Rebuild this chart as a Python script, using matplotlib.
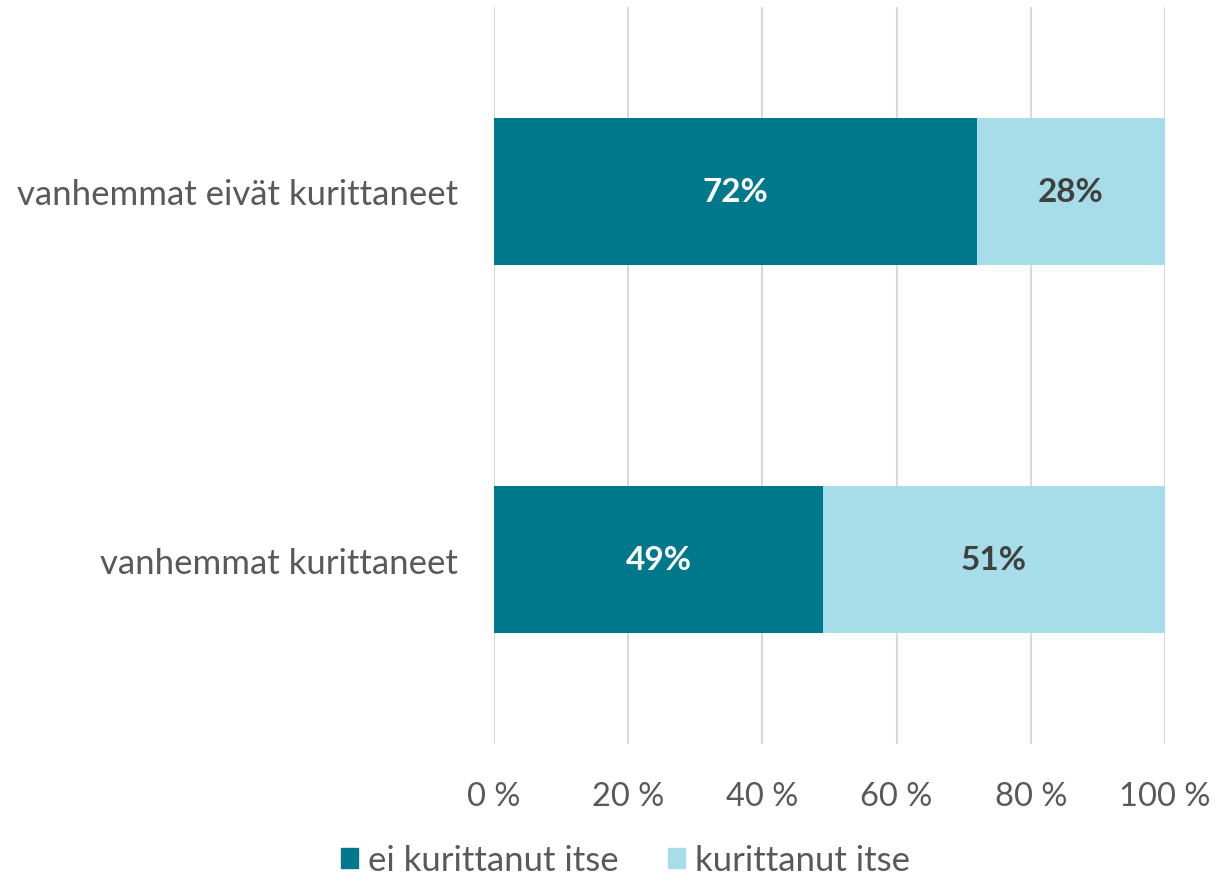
import matplotlib
matplotlib.use('Agg')
import matplotlib.pyplot as plt
from matplotlib.patches import Patch

plt.rcParams['font.family'] = ['Lato', 'DejaVu Sans']

categories = ['vanhemmat kurittaneet', 'vanhemmat eivät kurittaneet']
not_disciplined = [49, 72]
disciplined = [51, 28]
series_names = ['ei kurittanut itse', 'kurittanut itse']
xticks = [0, 20, 40, 60, 80, 100]

dark = '#00788C'
light = '#A6DDE8'
grey = '#595959'

fig = plt.figure(figsize=(12.17, 8.78), dpi=100)
ax = fig.add_axes([0.4059, 0.1515, 0.5514, 0.8394])

y = range(len(categories))
ax.barh(y, not_disciplined, height=0.4, color=dark, zorder=3)
ax.barh(y, disciplined, left=not_disciplined, height=0.4, color=light, zorder=3)

for i, (a, b) in enumerate(zip(not_disciplined, disciplined)):
    ax.text(a / 2, i, f'{a}%', ha='center', va='center', color='white',
            fontsize=24, fontweight='bold', zorder=4)
    ax.text(a + b / 2, i, f'{b}%', ha='center', va='center', color='#404040',
            fontsize=24, fontweight='bold', zorder=4)

ax.set_xlim(0, 100)
ax.set_ylim(-0.5, 1.5)
ax.set_xticks(xticks)
ax.set_xticklabels([f'{t} %' for t in xticks])
ax.set_yticks(list(y))
ax.set_yticklabels(categories)
ax.tick_params(axis='x', length=0, pad=27, labelsize=23.5, colors=grey)
ax.tick_params(axis='y', length=0, pad=26, labelsize=25, colors=grey)
ax.grid(axis='x', color='#D9D9D9', linewidth=1.5, zorder=0)
for s in ax.spines.values():
    s.set_visible(False)

handles = [Patch(color=dark), Patch(color=light)]
fig.legend(handles, series_names, loc='center', bbox_to_anchor=(0.514, 0.019),
           ncol=2, frameon=False, fontsize=25, labelcolor=grey,
           handlelength=0.5, handleheight=0.5, handletextpad=0.3, columnspacing=1.4)

fig.savefig('out.png', dpi=100)
